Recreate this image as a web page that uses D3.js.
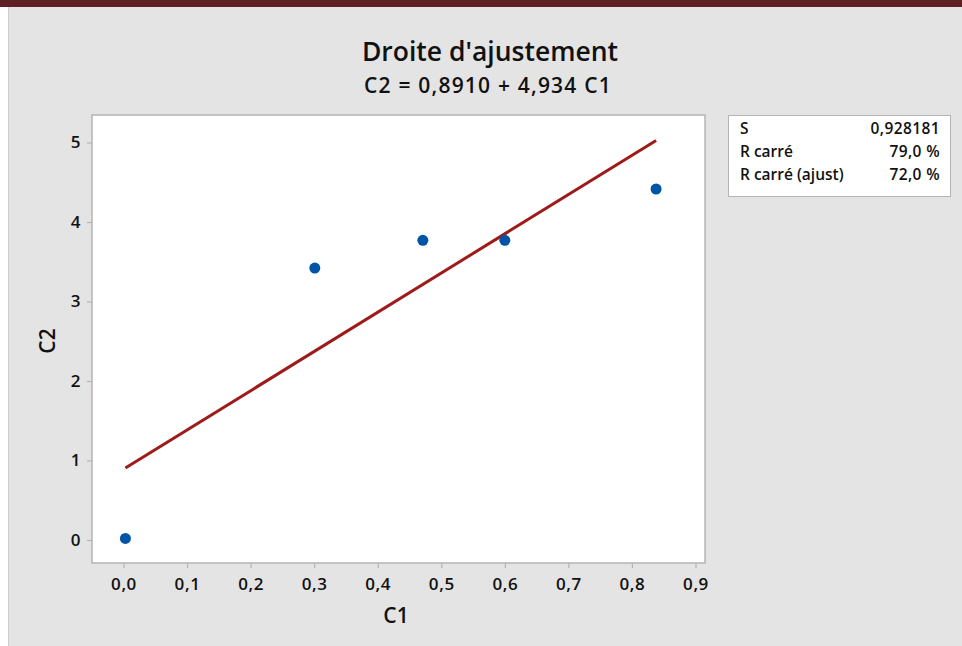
<!doctype html>
<html>
<head>
  <meta charset="utf-8">
  <style>
    body { margin: 0; background: #ffffff; }
    svg { display: block; font-family: "Open Sans", "Noto Sans", sans-serif; }
  </style>
  <script src="https://cdn.jsdelivr.net/npm/d3@7"></script>
</head>
<body>
  <script>
  // data
  var xValues = [0.003, 0.301, 0.471, 0.600, 0.838];
  var yValues = [0.02, 3.42, 3.77, 3.77, 4.415];
  var intercept = 0.8910;
  var slope = 4.934;
  var xTicks = [0, 0.1, 0.2, 0.3, 0.4, 0.5, 0.6, 0.7, 0.8, 0.9];
  var yTicks = [0, 1, 2, 3, 4, 5];
  var statLabels = ["S", "R carré", "R carré (ajust)"];
  var statValues = ["0,928181", "79,0 %", "72,0 %"];

  var W = 962, H = 646;
  var plot = {left: 92, top: 115, right: 705, bottom: 563};

  var svg = d3.select("body").append("svg")
      .attr("width", W)
      .attr("height", H);

  // page background + top bar
  svg.append("rect").attr("x", 8).attr("y", 7).attr("width", W - 8).attr("height", H - 7)
      .attr("fill", "#e4e4e4");
  svg.append("line").attr("x1", 8.5).attr("x2", 8.5).attr("y1", 7).attr("y2", H)
      .attr("stroke", "#cfcfcf");
  svg.append("rect").attr("x", 0).attr("y", 0).attr("width", W).attr("height", 7)
      .attr("fill", "#5f2023");

  // scales: x(0)=123.5, x(0.9)=695.5 ; y(0)=540, y(5)=142.5
  var xs = d3.scaleLinear().domain([0, 0.9]).range([123.5, 695.5]);
  var ys = d3.scaleLinear().domain([0, 5]).range([540, 142.5]);

  svg.append("rect")
      .attr("x", plot.left).attr("y", plot.top)
      .attr("width", plot.right - plot.left).attr("height", plot.bottom - plot.top)
      .attr("fill", "#ffffff").attr("stroke", "#b4b4b4").attr("stroke-width", 1.5);

  var fmt = function(d) { return d3.format(".1f")(d).replace(".", ","); };

  var xAxis = svg.append("g")
      .attr("transform", "translate(0," + plot.bottom + ")")
      .call(d3.axisBottom(xs).tickValues(xTicks).tickFormat(fmt).tickSize(5).tickSizeOuter(0));
  var yAxis = svg.append("g")
      .attr("transform", "translate(" + plot.left + ",0)")
      .call(d3.axisLeft(ys).tickValues(yTicks).tickFormat(d3.format("d")).tickSize(5).tickSizeOuter(0));

  [xAxis, yAxis].forEach(function(a) {
    a.select(".domain").remove();
    a.selectAll(".tick line").attr("stroke", "#b4b4b4").attr("stroke-width", 1.2);
    a.selectAll(".tick text")
      .attr("fill", "#111")
      .attr("font-size", "17px")
      .attr("font-weight", 600)
      .attr("letter-spacing", "0.6px")
      .attr("font-family", "\"Open Sans\", sans-serif");
  });
  xAxis.selectAll(".tick text").attr("dy", "1.1em");
  yAxis.selectAll(".tick text").attr("x", -11);

  // fitted line
  var xMin = d3.min(xValues), xMax = d3.max(xValues);
  svg.append("line")
      .attr("x1", xs(xMin)).attr("y1", ys(intercept + slope * xMin))
      .attr("x2", xs(xMax)).attr("y2", ys(intercept + slope * xMax))
      .attr("stroke", "#9e1b1b").attr("stroke-width", 3);

  // points
  svg.selectAll("circle.pt")
      .data(xValues)
      .enter()
      .append("circle")
      .attr("class", "pt")
      .attr("cx", function(d) { return xs(d); })
      .attr("cy", function(d, i) { return ys(yValues[i]); })
      .attr("r", 5.5)
      .attr("fill", "#0054a6");

  // titles
  svg.append("text").attr("x", 490).attr("y", 61)
      .attr("text-anchor", "middle").attr("font-size", "26.5px").attr("font-weight", 600)
      .attr("fill", "#111").text("Droite d'ajustement");
  svg.append("text").attr("x", 488).attr("y", 93)
      .attr("text-anchor", "middle").attr("font-size", "21px").attr("font-weight", 600)
      .attr("letter-spacing", "1.2px")
      .attr("fill", "#111").text("C2 = 0,8910 + 4,934 C1");

  // axis labels
  svg.append("text").attr("x", 396).attr("y", 623)
      .attr("text-anchor", "middle").attr("font-size", "21px").attr("font-weight", 600)
      .attr("fill", "#111").text("C1");
  svg.append("text").attr("transform", "translate(55,341) rotate(-90)")
      .attr("text-anchor", "middle").attr("font-size", "21px").attr("font-weight", 600)
      .attr("fill", "#111").text("C2");

  // stats box
  svg.append("rect").attr("x", 728.5).attr("y", 115.5).attr("width", 222).attr("height", 81)
      .attr("fill", "#ffffff").attr("stroke", "#b4b4b4");
  var rows = svg.selectAll("g.row")
      .data(statLabels)
      .enter()
      .append("g")
      .attr("class", "row")
      .attr("transform", function(d, i) { return "translate(0," + (134 + i * 23) + ")"; });
  rows.append("text").attr("x", 740)
      .attr("font-size", "15.5px").attr("font-weight", 600).attr("fill", "#111")
      .text(function(d) { return d; });
  rows.append("text").attr("x", 940).attr("text-anchor", "end")
      .attr("font-size", "15.5px").attr("font-weight", 600).attr("fill", "#111")
      .attr("letter-spacing", "0.4px")
      .text(function(d, i) { return statValues[i]; });
  </script>
</body>
</html>
